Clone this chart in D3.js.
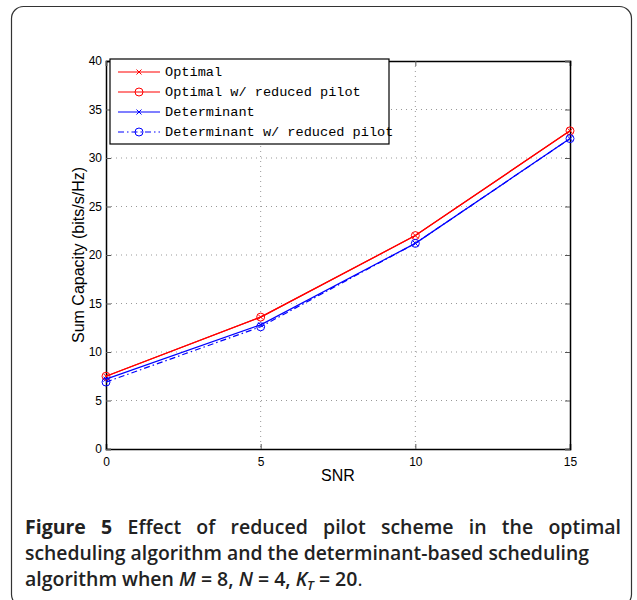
<!DOCTYPE html>
<html><head><meta charset="utf-8">
<script src="https://cdn.jsdelivr.net/npm/d3@7"></script>
<style>
body{margin:0;background:#fff;}
svg{display:block;}
</style></head>
<body>
<svg id="c" width="637" height="600"></svg>
<script>
const snr = [0, 5, 10, 15];
const optimal = [7.5, 13.6, 22.0, 32.8];
const optimalReduced = [7.5, 13.6, 22.0, 32.8];
const determinant = [7.2, 12.8, 21.2, 32.0];
const determinantReduced = [6.9, 12.6, 21.2, 32.0];
const xTicks = [0, 5, 10, 15];
const yTicks = [0, 5, 10, 15, 20, 25, 30, 35, 40];
const seriesNames = ["Optimal", "Optimal w/ reduced pilot", "Determinant", "Determinant w/ reduced pilot"];

const svg = d3.select("#c");
// outer frame
svg.append("rect").attr("x", 11.5).attr("y", 6.5).attr("width", 620).attr("height", 600)
  .attr("rx", 12).attr("fill", "none").attr("stroke", "#333").attr("stroke-width", 1.2);

const L = 106, R = 570, T = 61, B = 449;
const x = d3.scaleLinear().domain([0, 15]).range([L, R]);
const y = d3.scaleLinear().domain([0, 40]).range([B, T]);

// grid
const g = svg.append("g");
g.selectAll(".gy").data(yTicks.filter(d => d > 0 && d < 40)).join("line")
  .attr("x1", L).attr("x2", R).attr("y1", d => y(d)).attr("y2", d => y(d))
  .attr("stroke", "#999").attr("stroke-dasharray", "1,4").attr("stroke-width", 1);
g.selectAll(".gx").data(xTicks.filter(d => d > 0 && d < 15)).join("line")
  .attr("y1", T).attr("y2", B).attr("x1", d => x(d)).attr("x2", d => x(d))
  .attr("stroke", "#999").attr("stroke-dasharray", "1,4").attr("stroke-width", 1);

// axes
const fontAx = "Liberation Sans, Arial, sans-serif";
svg.append("g").attr("transform", `translate(0,${B})`)
  .call(d3.axisBottom(x).tickValues(xTicks).tickSize(-5).tickPadding(8));
svg.append("g").attr("transform", `translate(${L},0)`)
  .call(d3.axisLeft(y).tickValues(yTicks).tickSize(-5).tickPadding(4));
svg.append("g").attr("transform", `translate(0,${T})`)
  .call(d3.axisTop(x).tickValues(xTicks).tickSize(-5).tickFormat(""));
svg.append("g").attr("transform", `translate(${R},0)`)
  .call(d3.axisRight(y).tickValues(yTicks).tickSize(-5).tickFormat(""));
svg.selectAll(".domain").attr("stroke", "#000").attr("stroke-width", 1.5);
svg.selectAll(".tick line").attr("stroke", "#555");
svg.selectAll(".tick text").attr("font-family", fontAx).attr("font-size", 12).attr("fill", "#000");

// axis labels
svg.append("text").attr("x", (L + R) / 2).attr("y", 481).attr("text-anchor", "middle")
  .attr("font-family", fontAx).attr("font-size", 16).text("SNR");
svg.append("text").attr("transform", `translate(84,${(T + B) / 2}) rotate(-90)`)
  .attr("text-anchor", "middle").attr("font-family", fontAx).attr("font-size", 16)
  .text("Sum Capacity (bits/s/Hz)");

// series
const series = [
  {name: seriesNames[0], vals: optimal, color: "#ff0000", marker: "x", dash: null},
  {name: seriesNames[1], vals: optimalReduced, color: "#ff0000", marker: "o", dash: null},
  {name: seriesNames[2], vals: determinant, color: "#0000ff", marker: "x", dash: null},
  {name: seriesNames[3], vals: determinantReduced, color: "#0000ff", marker: "o", dash: "6,3,1.5,3"}
];
const line = d3.line().x((d, i) => x(snr[i])).y(d => y(d));
function marker(sel, type, color, cx, cy) {
  if (type === "x") {
    const s = 2.5;
    sel.append("path").attr("d", `M${cx - s},${cy - s}L${cx + s},${cy + s}M${cx - s},${cy + s}L${cx + s},${cy - s}`)
      .attr("stroke", color).attr("stroke-width", 1);
  } else {
    sel.append("circle").attr("cx", cx).attr("cy", cy).attr("r", 4)
      .attr("fill", "none").attr("stroke", color).attr("stroke-width", 1);
  }
}
const pl = svg.append("g");
series.forEach(s => {
  pl.append("path").datum(s.vals).attr("d", line).attr("fill", "none")
    .attr("stroke", s.color).attr("stroke-width", 1.2)
    .attr("stroke-dasharray", s.dash);
  s.vals.forEach((v, i) => marker(pl, s.marker, s.color, x(snr[i]), y(v)));
});

// legend
const lg = svg.append("g");
lg.append("rect").attr("x", 110).attr("y", 59).attr("width", 279).attr("height", 85)
  .attr("fill", "#fff").attr("stroke", "#000").attr("stroke-width", 1.2);
const ly = [72, 92, 112, 132];
series.forEach((s, i) => {
  lg.append("line").attr("x1", 118).attr("x2", 160).attr("y1", ly[i]).attr("y2", ly[i])
    .attr("stroke", s.color).attr("stroke-width", 1.2).attr("stroke-dasharray", s.dash);
  marker(lg, s.marker, s.color, 139, ly[i]);
  lg.append("text").attr("x", 165).attr("y", ly[i] + 4)
    .attr("font-family", "Liberation Mono, Courier New, monospace").attr("font-size", 13.6)
    .text(s.name);
});

// caption
const cap = svg.append("g").attr("font-family", "Open Sans, Noto Sans, sans-serif")
  .attr("font-size", 19.5).attr("fill", "#222").attr("font-weight", 600);
function fit(t, target) {
  const w = t.node().getComputedTextLength();
  const str = t.text();
  const n = (str.match(/ /g) || []).length;
  if (w < target && n > 0) t.attr("word-spacing", (target - w) / n);
  else if (w > target) t.attr("textLength", target).attr("lengthAdjust", "spacingAndGlyphs");
}
const l1 = cap.append("text").attr("x", 25).attr("y", 534);
l1.append("tspan").attr("font-weight", 700).text("Figure 5 ");
l1.append("tspan").text("Effect of reduced pilot scheme in the optimal");
fit(l1, 596);
const l2 = cap.append("text").attr("x", 25).attr("y", 560)
  .text("scheduling algorithm and the determinant-based scheduling");
fit(l2, 564);
const l3 = cap.append("text").attr("x", 25).attr("y", 586);
l3.append("tspan").text("algorithm when ");
l3.append("tspan").attr("font-style", "italic").text("M");
l3.append("tspan").text(" = 8, ");
l3.append("tspan").attr("font-style", "italic").text("N");
l3.append("tspan").text(" = 4, ");
l3.append("tspan").attr("font-style", "italic").text("K");
l3.append("tspan").attr("font-style", "italic").attr("font-size", 13).attr("dy", 4).text("T");
l3.append("tspan").attr("dy", -4).text(" = 20");
l3.append("tspan").attr("font-weight", "normal").text(".");
</script>
</body></html>
